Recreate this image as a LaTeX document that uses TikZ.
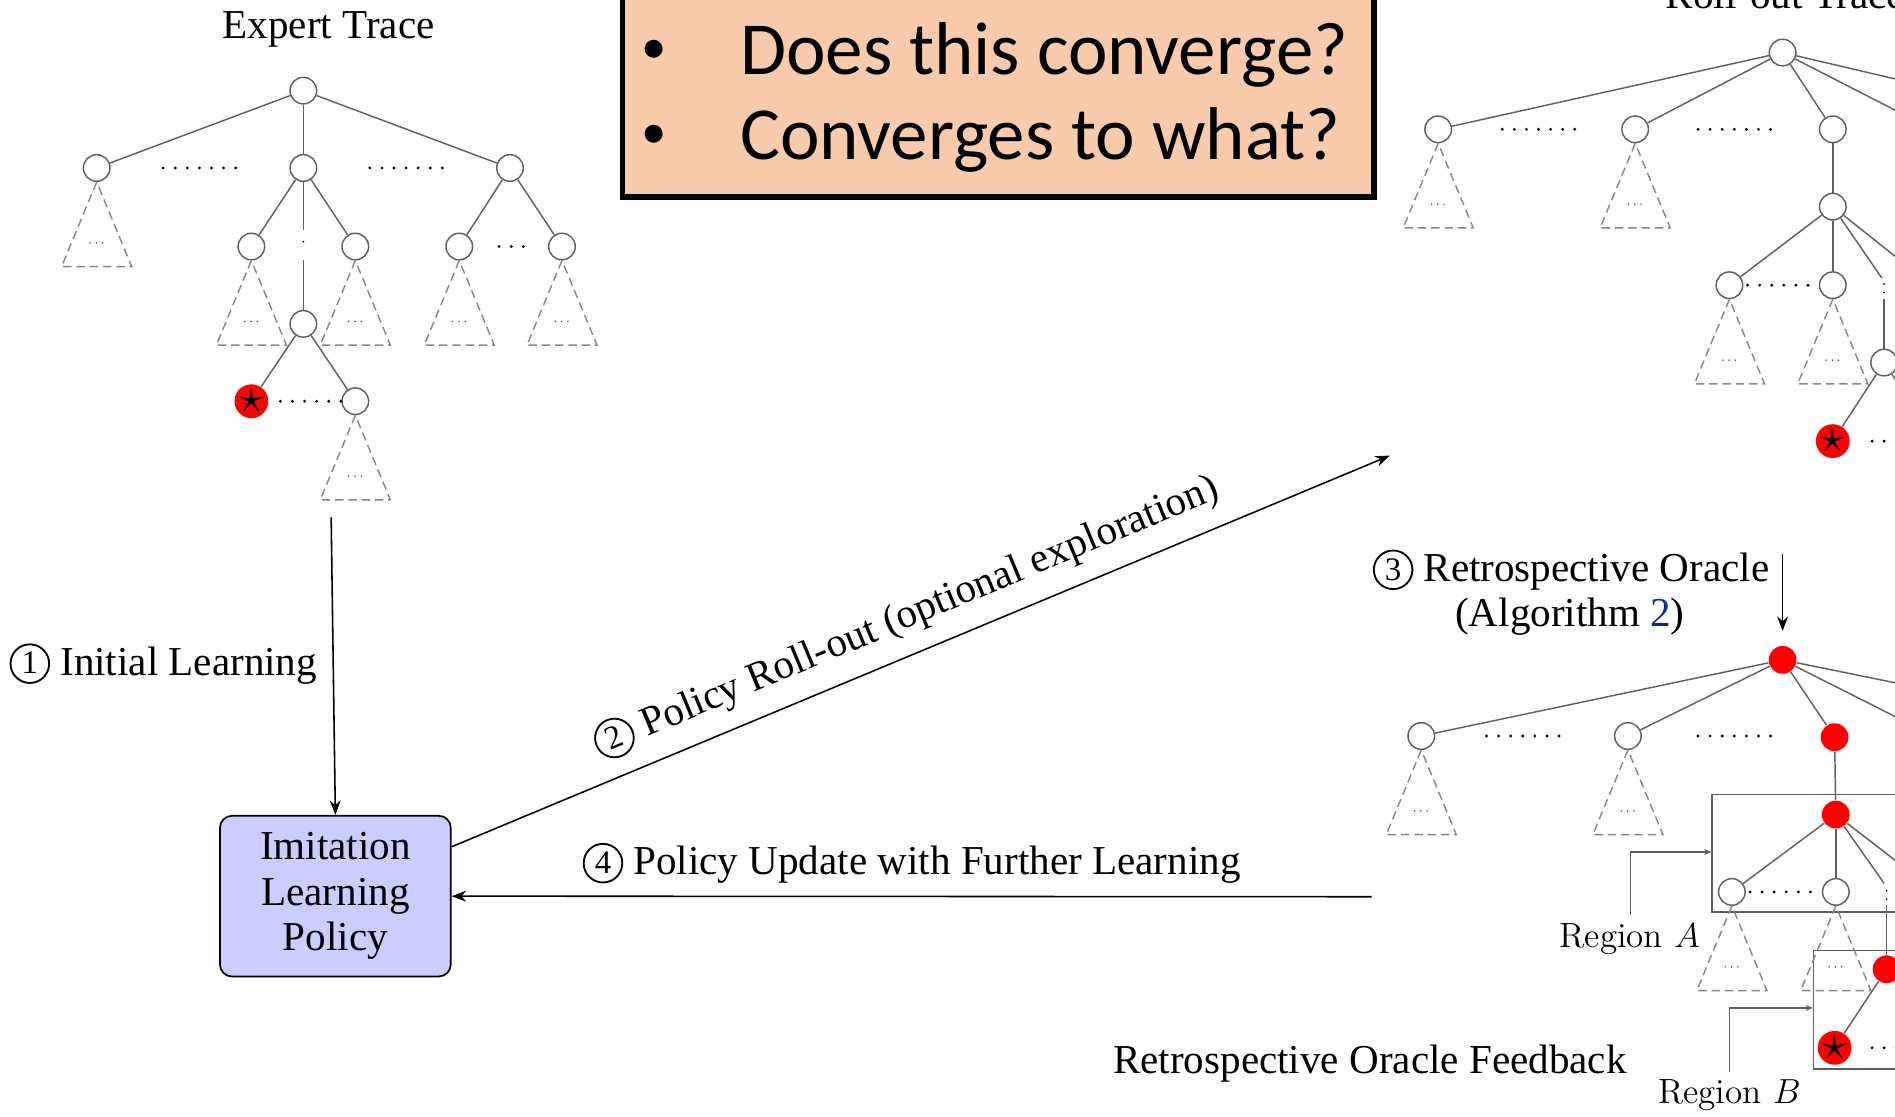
\documentclass[tikz,border=0pt]{standalone}
\usepackage{fontspec}
\usepackage{graphicx}
\usetikzlibrary{arrows.meta,calc}
\newfontfamily\timesf{Liberation Serif}
\newfontfamily\calibf{Carlito}
\definecolor{peach}{RGB}{248,203,173}
\definecolor{lavender}{RGB}{204,204,255}
\definecolor{linkblue}{RGB}{25,40,130}
\definecolor{edgegray}{RGB}{95,95,95}
\definecolor{trigray}{RGB}{135,135,135}
\definecolor{nodered}{RGB}{255,0,0}
% circled step number: a drawn ring with the digit set inside it
\newcommand\cnum[1]{\ooalign{\tikz[baseline=-0.28em]\draw[line width=0.045em] (0,0) circle[radius=0.47em];\cr\hfil\raisebox{0.03em}{\scalebox{0.8}{#1}}\hfil\cr}}
% dashed sub-tree triangle hanging below a node
\newcommand\subtri[1]{%
  \draw[tri] (#1.south) -- ++(-29,70) -- ++(58,0) -- cycle;
  \draw[sdots] ($(#1.center)+(-5.5,62)$) -- ++(11,0);}
\begin{document}
\begin{tikzpicture}[x=0.5pt,y=-0.5pt,
  tn/.style={circle,draw=edgegray,line width=0.6pt,fill=white,minimum size=11pt,inner sep=0pt},
  rn/.style={circle,fill=nodered,draw=none,minimum size=11.5pt,inner sep=0pt},
  sn/.style={circle,fill=nodered,draw=none,minimum size=13pt,inner sep=0pt,font=\fontsize{21}{21}\selectfont},
  tedge/.style={draw=edgegray,line width=0.6pt},
  tri/.style={draw=trigray,line width=0.6pt,dash pattern=on 3.5pt off 2pt},
  hdots/.style={draw=black,line width=1.3pt,line cap=round,dash pattern=on 0pt off 5pt},
  sdots/.style={draw=black!75,line width=0.7pt,line cap=round,dash pattern=on 0pt off 2.6pt},
  vdots/.style={draw=black,line width=0.8pt,line cap=round,dash pattern=on 0pt off 3.5pt},
  flow/.style={draw=black,line width=0.65pt,-{Stealth[length=6pt,width=4.5pt]}},
  regarrow/.style={draw=edgegray,line width=0.5pt,-{Stealth[length=3pt,width=2.5pt]}},
  regbox/.style={draw=edgegray,line width=0.6pt,inner sep=0pt},
  lbl/.style={font=\timesf\fontsize{17}{20}\selectfont,inner sep=0pt},
  reglbl/.style={font=\fontsize{14.5}{17}\selectfont,inner sep=0pt},
  qtext/.style={font=\calibf\fontsize{31}{31}\selectfont,inner sep=0pt},
  bullet/.style={font=\calibf\fontsize{21}{21}\selectfont,inner sep=0pt},
  policy/.style={draw=black,line width=0.7pt,fill=lavender,rounded corners=5pt,
    minimum width=95.5pt,minimum height=66.5pt,align=center,
    font=\timesf\fontsize{17}{18.75}\selectfont}]
\useasboundingbox (0,0) rectangle (1568,924);
\clip (0,0) rectangle (1568,924);

% ---------------- question box ----------------
\draw[line width=2.2pt,fill=peach] (515,-20) rectangle (1137,163);
\node[bullet,anchor=center] (b1) at (541,43) {•};
\node[bullet,anchor=center] (b2) at (541,113) {•};
\node[qtext,anchor=base west] (q1) at (612,62) {Does this converge?};
\node[qtext,anchor=base west] (q2) at (612,132) {Converges to what?};

% ---------------- expert trace ----------------
\node[lbl,anchor=base] (etitle) at (272,32) {Expert Trace};
\node[tn] (e0) at (251,75) {};
\node[tn] (e1) at (80,139) {};
\node[tn] (e2) at (251,139) {};
\node[tn] (e3) at (422,139) {};
\node[tn] (e21) at (208,204) {};
\node[tn] (e22) at (294,204) {};
\node[tn] (e31) at (380,204) {};
\node[tn] (e32) at (465,204) {};
\node[tn] (e4) at (251,268) {};
\node[sn] (es) at (208,332) {$\star$};
\node[tn] (e42) at (294,332) {};
\foreach \n in {e1,e21,e22,e31,e32,e42} {\subtri{\n}}
\foreach \a/\b in {e0/e1,e0/e2,e0/e3,e2/e21,e2/e22,e3/e31,e3/e32,e4/es,e4/e42}
  {\draw[tedge] (\a) -- (\b);}
\draw[tedge] (e2.south) -- ++(0,40);
\draw[vdots] (251,200) -- (251,207);
\draw[tedge] (e4.north) -- ++(0,-41);
\draw[hdots] (135,139) -- (197,139);
\draw[hdots] (306,139) -- (368,139);
\draw[hdots] (413,204) -- (433,204);
\draw[hdots] (232,332) -- (282,332);

% ---------------- roll-out trace ----------------
\node[lbl,anchor=base west] (rtitle) at (1378,7) {Roll-out Trace};
\node[tn] (r0) at (1475,43.5) {};
\node[tn] (r1) at (1190,107) {};
\node[tn] (r2) at (1353,107) {};
\node[tn] (r3) at (1516.5,107) {};
\node[tn] (r4) at (1599,107) {};
\node[tn] (r5) at (1746,107) {};
\node[tn] (r6) at (1516.5,171) {};
\node[tn] (r61) at (1431,236) {};
\node[tn] (r62) at (1516.5,236) {};
\node[tn] (r64) at (1598,236) {};
\node[tn] (r7) at (1559,300) {};
\node[sn] (rs) at (1516.5,365) {$\star$};
\node[tn] (r72) at (1602,365) {};
\foreach \n in {r1,r2,r61,r62} {\subtri{\n}}
\foreach \a/\b in {r0/r1,r0/r2,r0/r3,r0/r4,r0/r5,r3/r6,r6/r61,r6/r62,r6/r64,r7/rs,r7/r72}
  {\draw[tedge] (\a) -- (\b);}
\coordinate (rk) at (1557,230);
\draw[tedge] (r6) -- (rk);
\draw[vdots] (1559,235) -- (1559,242);
\draw[tedge] (r7.north) -- ++(0,-41);
\draw[hdots] (1243,107) -- (1303,107);
\draw[hdots] (1405,107) -- (1465,107);
\draw[hdots] (1446,236) -- (1503,236);
\draw[hdots] (1549,365) -- (1600,365);

% ---------------- oracle-corrected trace ----------------
\node[regbox,anchor=north west,minimum width=125pt,minimum height=48.5pt] (regA) at (1416,657) {};
\node[regbox,anchor=north west,minimum width=100pt,minimum height=49pt] (regB) at (1500,786) {};
\node[rn] (o0) at (1475,546) {};
\node[tn] (o1) at (1176,609) {};
\node[tn] (o2) at (1347,609) {};
\node[rn] (o3) at (1518,610) {};
\node[tn] (o4) at (1600,609) {};
\node[tn] (o5) at (1784,609) {};
\node[rn] (o6) at (1519,674) {};
\node[tn] (o61) at (1433,738) {};
\node[tn] (o62) at (1519,738) {};
\node[tn] (o64) at (1602,738) {};
\node[rn] (o7) at (1561,802) {};
\node[sn] (os) at (1518,867) {$\star$};
\node[tn] (o72) at (1604,867) {};
\foreach \n in {o1,o2,o61,o62} {\subtri{\n}}
\foreach \a/\b in {o0/o1,o0/o2,o0/o3,o0/o4,o0/o5,o3/o6,o6/o61,o6/o62,o6/o64,o7/os,o7/o72}
  {\draw[tedge] (\a) -- (\b);}
\coordinate (ok) at (1559,731);
\draw[tedge] (o6) -- (ok);
\draw[vdots] (1561,737) -- (1561,744);
\draw[tedge] (o7.north) -- ++(0,-41);
\draw[hdots] (1230,609) -- (1292,609);
\draw[hdots] (1405,609) -- (1466,609);
\draw[hdots] (1448,738) -- (1506,738);
\draw[hdots] (1549,867) -- (1600,867);

% region call-outs
\node[reglbl,anchor=base] (labA) at (1348.5,784) {Region $A$};
\node[reglbl,anchor=base] (labB) at (1431,913) {Region $B$};
\coordinate (ta) at (1349,757);
\coordinate (ka) at (1349,705);
\draw[regarrow] (ta) -- (ka) -- (ka -| regA.west);
\coordinate (tb) at (1431,887);
\coordinate (kb) at (1431,834);
\draw[regarrow] (tb) -- (kb) -- (kb -| regB.west);

\node[lbl,anchor=base] (feed) at (1133.5,888) {Retrospective Oracle Feedback};
\node[lbl,anchor=base] (orA) at (1300,481) {\cnum{3} Retrospective Oracle};
\node[lbl,anchor=base] (orB) at (1299,518) {(Algorithm {\color{linkblue}2})};
\coordinate (otail) at (1475,458);
\draw[flow] (otail) -- ([yshift=6pt]o0.north);

% ---------------- policy and the learning loop ----------------
\node[policy] (pol) at (277.5,741.5) {Imitation\\Learning\\Policy};
\coordinate (etail) at (274,428);
\draw[flow] (etail) -- node[lbl,anchor=base east,xshift=-6.5pt,yshift=-3.75pt] (l1) {\cnum{1} Initial Learning} (pol.north);
\coordinate (rtip) at (1150,377);
\draw[flow] (pol.23.5) -- node[lbl,sloped,above=7pt,pos=0.5] (l2) {\cnum{2} Policy Roll-out (optional exploration)} (rtip);
\coordinate (fbk) at (1135,742);
\draw[flow] (fbk) -- node[lbl,anchor=base,yshift=9pt] (l4) {\cnum{4} Policy Update with Further Learning} (pol.east);
\end{tikzpicture}
\end{document}
